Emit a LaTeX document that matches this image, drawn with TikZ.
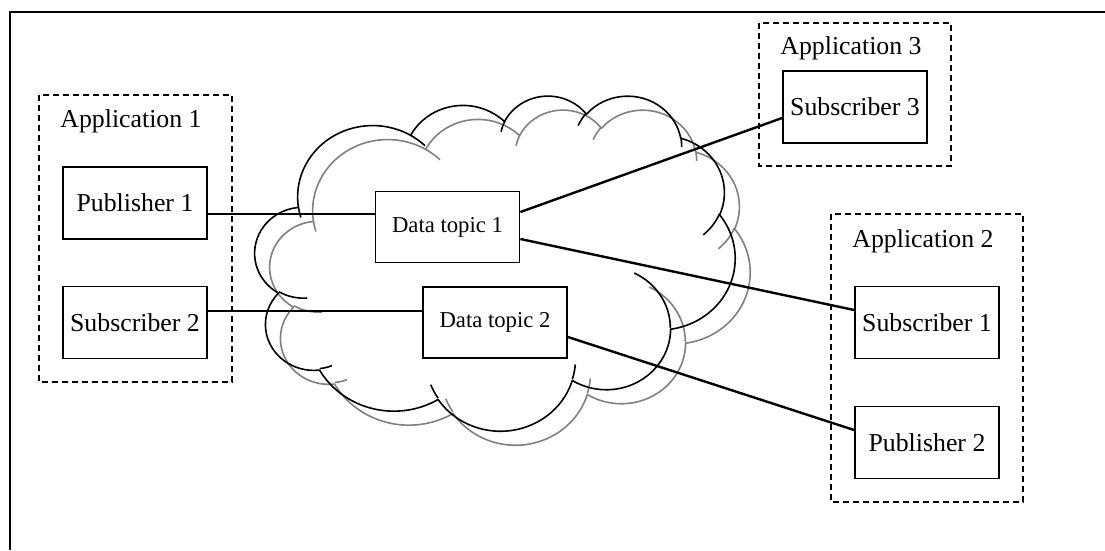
\documentclass[tikz,border=0pt]{standalone}
\usepackage{fontspec}
\setmainfont{Liberation Serif}
\newcommand\mkarc[5]{%
  \pgfmathsetmacro\ArcA{atan2(#2*sin(#4),#3*cos(#4))}%
  \pgfmathsetmacro\ArcB{atan2(#2*sin(#4+#5),#3*cos(#4+#5))}%
  \pgfmathsetmacro\ArcD{\ArcB-\ArcA}%
  \pgfmathsetmacro\ArcD{\ArcD<0 ? \ArcD+360 : \ArcD}%
  \expandafter\global\expandafter\let\csname #1s\endcsname\ArcA
  \expandafter\global\expandafter\let\csname #1d\endcsname\ArcD}
\newcommand\drawcloud[1]{%
  \draw[#1] (39.00,143.70)
    arc[x radius=67.53,y radius=91.90,start angle=\cAs,delta angle=\cAd]
    arc[x radius=53.33,y radius=72.67,start angle=\cBs,delta angle=\cBd]
    arc[x radius=43.65,y radius=59.45,start angle=\cCs,delta angle=\cCd]
    arc[x radius=48.57,y radius=65.95,start angle=\cDs,delta angle=\cDd]
    arc[x radius=53.33,y radius=72.73,start angle=\cEs,delta angle=\cEd]
    arc[x radius=67.75,y radius=92.20,start angle=\cFs,delta angle=\cFd]
    arc[x radius=57.85,y radius=78.67,start angle=\cGs,delta angle=\cGd]
    arc[x radius=67.52,y radius=92.15,start angle=\cHs,delta angle=\cHd]
    arc[x radius=77.20,y radius=105.43,start angle=\cIs,delta angle=\cId]
    arc[x radius=43.60,y radius=59.18,start angle=\cJs,delta angle=\cJd]
    arc[x radius=43.45,y radius=59.45,start angle=\cKs,delta angle=\cKd]
    -- cycle;
  \draw[#1]
    (46.93,261.77) arc[x radius=43.45,y radius=59.45,start angle=\iAs,delta angle=\iAd]
    (69.28,348.99) arc[x radius=43.60,y radius=59.18,start angle=\iBs,delta angle=\iBd]
    (164.78,390.90) arc[x radius=67.52,y radius=92.15,start angle=\iCs,delta angle=\iCd]
    (288.27,347.51) arc[x radius=67.52,y radius=92.15,start angle=\iDs,delta angle=\iDd]
    (341.29,229.54) arc[x radius=57.85,y radius=78.67,start angle=\iEs,delta angle=\iEd]
    (417.98,153.54) arc[x radius=53.33,y radius=72.73,start angle=\iFs,delta angle=\iFd]
    (383.24,54.26) arc[x radius=48.57,y radius=65.95,start angle=\iGs,delta angle=\iGd]
    (290.78,39.52) arc[x radius=48.57,y radius=65.95,start angle=\iHs,delta angle=\iHd]
    (221.41,47.20) arc[x radius=43.65,y radius=59.45,start angle=\iIs,delta angle=\iId]
    (140.00,51.92) arc[x radius=67.53,y radius=91.90,start angle=\iJs,delta angle=\iJd]
    (41.27,157.89) arc[x radius=67.53,y radius=91.90,start angle=\iKs,delta angle=\iKd];}
\begin{document}
\begin{tikzpicture}[x=1pt,y=-1pt,
  compbox/.style={draw,line width=1.8pt,minimum width=144pt,minimum height=72pt,inner sep=0pt,font=\fontsize{25.8}{28}\selectfont},
  topicbox/.style={draw,line width=1.8pt,minimum width=144pt,minimum height=71pt,inner sep=0pt,font=\fontsize{22.7}{25}\selectfont},
  appbox/.style={draw,line width=2pt,dash pattern=on 6pt off 4pt},
  applabel/.style={font=\fontsize{25.8}{28}\selectfont,inner sep=0pt},
  conn/.style={line width=2.4pt},
  cloudline/.style={line width=1.6pt,line join=round}]
\mkarc{cA}{67.53}{91.90}{-190.4875}{123.7805}
\mkarc{cB}{53.33}{72.67}{-144.1024}{89.9452}
\mkarc{cC}{43.65}{59.45}{-145.8079}{99.7230}
\mkarc{cD}{48.57}{65.95}{-130.9861}{117.2417}
\mkarc{cE}{53.33}{72.73}{-78.7089}{109.0269}
\mkarc{cF}{67.75}{92.20}{-46.2673}{130.2690}
\mkarc{cG}{57.85}{78.67}{0.6250}{114.0333}
\mkarc{cH}{67.52}{92.15}{22.4516}{115.1726}
\mkarc{cI}{77.20}{105.43}{66.2426}{75.7110}
\mkarc{cJ}{43.60}{59.18}{-274.9421}{146.7356}
\mkarc{cK}{43.45}{59.45}{-246.8285}{152.5189}
\mkarc{iA}{43.45}{59.45}{86.7420}{26.4295}
\mkarc{iB}{43.60}{59.18}{73.6105}{11.4475}
\mkarc{iC}{67.52}{92.15}{137.6242}{14.0811}
\mkarc{iD}{67.52}{92.15}{6.4533}{15.9984}
\mkarc{iE}{57.85}{78.67}{-70.2924}{70.9174}
\mkarc{iF}{53.33}{72.73}{30.3180}{27.7515}
\mkarc{iG}{48.57}{65.95}{-13.7443}{14.8512}
\mkarc{iH}{48.57}{65.95}{-149.1815}{18.1835}
\mkarc{iI}{43.65}{59.45}{-163.4943}{17.6908}
\mkarc{iJ}{67.53}{91.90}{-66.7070}{12.3194}
\mkarc{iK}{67.53}{91.90}{157.6544}{11.8582}
\useasboundingbox (0,0) rectangle (1105,550);
\draw[line width=2.4pt] (1105,12) -- (10,12) -- (10,550);
% clouds (shadow then outline)
\begin{scope}[shift={(270,109)},x=1.1111pt,y=-0.7755pt]
  \drawcloud{cloudline,draw=black!50}
\end{scope}
\begin{scope}[shift={(255,95)},x=1.1111pt,y=-0.7755pt]
  \drawcloud{cloudline,draw=black}
\end{scope}
% application boxes
\draw[appbox] (39,95) rectangle (232,382);
\node[applabel] (app1) at (131,121) {Application 1};
\draw[appbox] (759,23) rectangle (951,166);
\node[applabel] (app3) at (851,48) {Application 3};
\draw[appbox] (831,214) rectangle (1023,502);
\node[applabel] (app2) at (923,241) {Application 2};
% component boxes
\node[compbox] (pub1) at (135,203) {Publisher 1};
\node[compbox] (sub2) at (135,322.5) {Subscriber 2};
\node[compbox] (sub3) at (855,107) {Subscriber 3};
\node[compbox] (sub1) at (927,322.5) {Subscriber 1};
\node[compbox] (pub2) at (927,442.5) {Publisher 2};
\node[topicbox,fill=white] (dt1) at (447.5,227) {Data topic 1};
\node[topicbox,fill=white] (dt2) at (495,322.5) {Data topic 2};
% connectors
\draw[conn] (pub1.east |- 0,214) -- (dt1.west |- 0,214);
\draw[conn] (sub2.east |- 0,311) -- (dt2.west |- 0,311);
\draw[conn] (dt1.east |- 0,212) -- (sub3.west |- 0,118);
\draw[conn] (dt1.east |- 0,239) -- (sub1.west |- 0,310);
\draw[conn] (dt2.east |- 0,337) -- (pub2.west |- 0,430);
\end{tikzpicture}
\end{document}
